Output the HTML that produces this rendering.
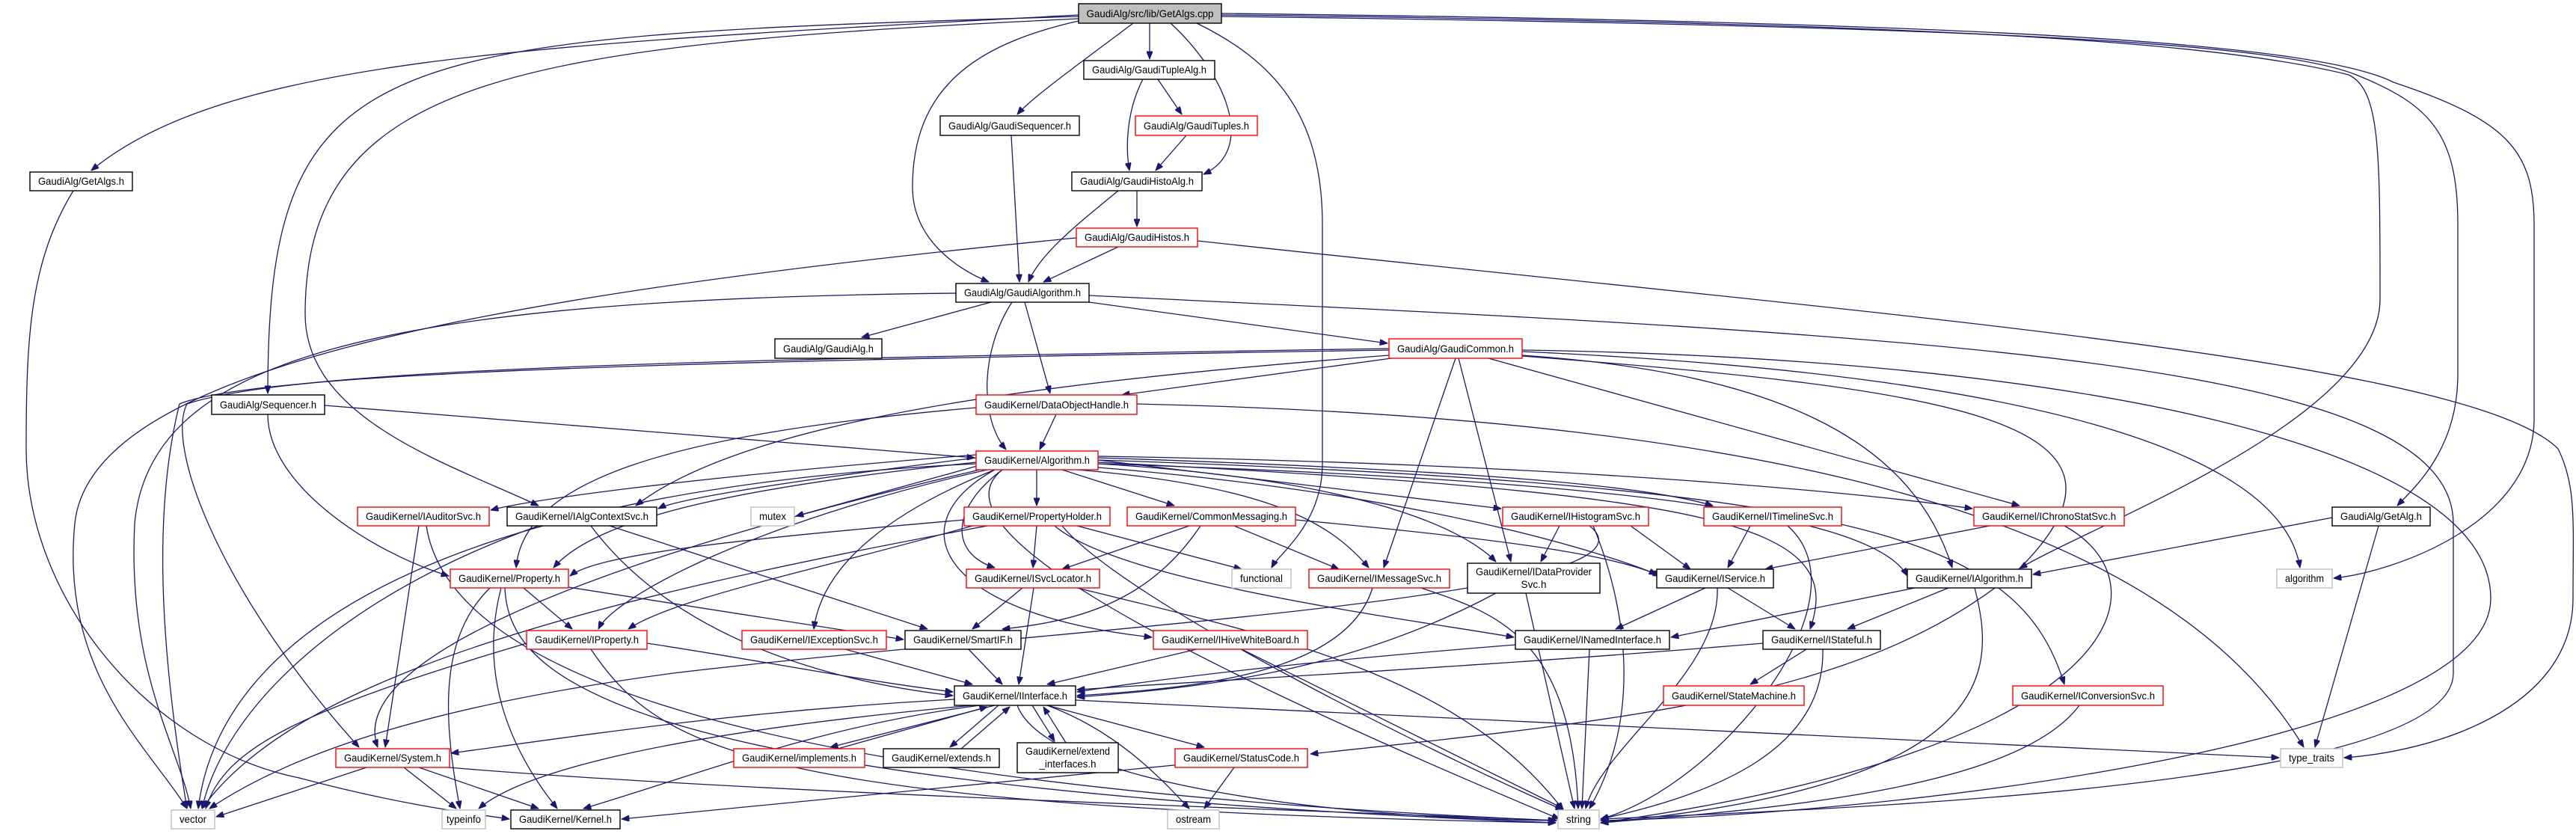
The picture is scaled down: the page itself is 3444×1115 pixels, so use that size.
<!DOCTYPE html>
<html><head><meta charset="utf-8"><style>
html,body{margin:0;padding:0;background:#fff;}
svg{display:block;}
text{font-family:"Liberation Sans",Arial,sans-serif;font-size:14px;fill:#000;}
.e path{fill:none;stroke:#191970;stroke-width:1.3;marker-end:url(#a);}
.n rect{fill:#fff;stroke-width:1.4;}
.k rect{stroke:#000;}
.r rect{stroke:#ff0000;}
.g rect{stroke:#bfbfbf;}
</style></head><body>
<svg width="3444" height="1115" viewBox="0 0 3444 1115" xmlns="http://www.w3.org/2000/svg">
<defs><marker id="a" viewBox="0 0 10 8" refX="10" refY="4" markerWidth="11" markerHeight="8" markerUnits="userSpaceOnUse" orient="auto"><path d="M0,0 L10,4 L0,8 z" fill="#191970" stroke="#191970"/></marker></defs>
<g class="e">
<path d="M1442,20 C700,60 300,80 122,228"/>
<path d="M1442,22 C500,50 358,60 358,526"/>
<path d="M1442,25 C700,60 408,100 408,420 C408,560 600,620 720,676"/>
<path d="M1515,31 C1450,80 1380,130 1360,153"/>
<path d="M1537,31 L1537,79"/>
<path d="M1565,31 C1640,100 1680,200 1609,233"/>
<path d="M1442,28 C1300,60 1220,120 1220,250 C1220,320 1280,360 1322,377"/>
<path d="M1600,31 C1700,80 1768,150 1768,300 L1768,620 C1768,700 1710,740 1700,759"/>
<path d="M1633,20 C2500,30 2940,50 3140,100 C3182,120 3182,200 3182,400 C3182,560 2800,700 2700,760"/>
<path d="M1633,22 C2700,35 3050,60 3150,100 C3250,140 3286,180 3286,300 L3286,500 C3286,600 3230,650 3205,676"/>
<path d="M1633,18 C2700,30 3100,60 3200,110 C3350,160 3388,200 3388,300 L3388,560 C3388,700 3200,765 3120,773"/>
<path d="M1548,106 L1580,153"/>
<path d="M1528,106 C1505,150 1505,200 1510,228"/>
<path d="M1586,181 L1545,228"/>
<path d="M1352,181 L1363,377"/>
<path d="M1520,255 L1520,303"/>
<path d="M1495,255 C1440,300 1390,340 1375,377"/>
<path d="M1495,330 L1395,377"/>
<path d="M1439,318 C600,400 120,500 100,700 C80,900 200,1000 250,1081"/>
<path d="M1601,322 C2500,420 3300,480 3420,600 C3445,650 3440,700 3440,800 C3440,950 3250,1005 3134,1013"/>
<path d="M1278,392 C500,400 200,480 180,700 C170,900 240,1000 255,1081"/>
<path d="M1456,395 C2600,450 3280,480 3280,700 L3280,900 C3280,1050 2500,1080 2140,1095"/>
<path d="M1325,404 L1152,451"/>
<path d="M1456,404 L1855,459"/>
<path d="M1370,404 L1404,526"/>
<path d="M1353,404 C1310,470 1310,560 1345,601"/>
<path d="M1860,479 L1500,528"/>
<path d="M1857,475 C1400,510 1000,560 850,676"/>
<path d="M1857,466 C1000,480 400,490 250,540 C220,600 300,800 480,999"/>
<path d="M1857,468 C1000,482 350,495 240,540 C200,700 220,900 250,1081"/>
<path d="M1946,479 L1850,759"/>
<path d="M1950,479 L2020,751"/>
<path d="M1990,479 L2700,676"/>
<path d="M2035,475 C2400,500 2560,600 2610,759"/>
<path d="M2035,470 C2700,500 3050,600 3075,759"/>
<path d="M2035,476 C2600,520 2900,560 2700,760 C2500,930 2200,960 1752,1008"/>
<path d="M2035,468 C2800,480 3330,600 3330,800 C3330,1000 2500,1090 2140,1097"/>
<path d="M1412,554 L1390,601"/>
<path d="M1305,545 C900,580 700,640 690,759"/>
<path d="M1520,540 C2400,560 2900,700 3080,999"/>
<path d="M1305,608 C900,640 700,670 656,682"/>
<path d="M1305,612 C1000,650 900,670 880,680"/>
<path d="M1310,622 L1064,690"/>
<path d="M1305,618 C1000,650 800,690 740,759"/>
<path d="M1320,628 C1000,700 820,800 800,841"/>
<path d="M1310,628 C1000,700 450,850 505,999"/>
<path d="M1305,620 C700,650 300,800 265,1081"/>
<path d="M1386,628 L1386,676"/>
<path d="M1420,628 L1570,676"/>
<path d="M1468,615 L2007,680"/>
<path d="M1468,612 C2000,630 2200,650 2290,676"/>
<path d="M1468,610 C2100,620 2500,660 2637,680"/>
<path d="M1340,628 C1270,680 1270,740 1330,759"/>
<path d="M1440,628 C1700,650 1780,700 1830,759"/>
<path d="M1468,620 C1800,640 1950,700 2000,751"/>
<path d="M1468,625 C1900,660 2150,740 2220,770"/>
<path d="M1468,620 C2100,640 2500,680 2550,770"/>
<path d="M1330,628 C1200,680 1100,750 1088,841"/>
<path d="M1330,628 C1200,700 1250,820 1540,852"/>
<path d="M1468,618 C2300,660 2470,700 2420,841"/>
<path d="M1468,615 C2500,650 2700,720 2760,915"/>
<path d="M1340,628 C1250,700 1500,850 2085,1095"/>
<path d="M1386,703 L1381,759"/>
<path d="M1440,703 L1660,761"/>
<path d="M1289,695 C1000,720 800,740 762,770"/>
<path d="M1300,703 C1100,760 900,800 840,841"/>
<path d="M1410,703 C1500,780 1900,830 2024,852"/>
<path d="M1320,703 C800,800 400,900 270,1081"/>
<path d="M1420,703 C1500,800 1900,1000 2090,1083"/>
<path d="M1590,703 L1420,761"/>
<path d="M1650,703 L1790,761"/>
<path d="M1605,703 C1540,800 1450,830 1340,841"/>
<path d="M1732,695 C2000,720 2150,740 2215,768"/>
<path d="M2180,703 L2260,761"/>
<path d="M2085,703 L2060,751"/>
<path d="M2130,703 C2170,800 2200,950 2125,1081"/>
<path d="M2125,703 C2250,800 1400,840 900,900 C600,940 400,1000 280,1081"/>
<path d="M2340,703 L2310,759"/>
<path d="M2390,703 C2500,800 2300,1050 2140,1095"/>
<path d="M2660,703 L2360,761"/>
<path d="M2760,703 C2900,780 2850,1000 2140,1100"/>
<path d="M2560,786 L2234,852"/>
<path d="M2605,786 L2470,841"/>
<path d="M2640,786 C2670,900 2670,1050 2140,1100"/>
<path d="M3118,692 L2718,768"/>
<path d="M3180,703 L3095,999"/>
<path d="M1367,786 L1300,841"/>
<path d="M1382,786 L1362,915"/>
<path d="M1440,786 C1700,850 1950,900 2090,1083"/>
<path d="M1835,786 C1800,900 1600,920 1440,930"/>
<path d="M1900,786 C2000,820 2100,850 2110,1081"/>
<path d="M2000,793 C1800,900 1600,920 1440,932"/>
<path d="M2040,793 L2105,1081"/>
<path d="M2280,786 L2160,841"/>
<path d="M2310,786 L2400,841"/>
<path d="M2296,786 C2300,900 2140,1000 2120,1081"/>
<path d="M560,703 L515,999"/>
<path d="M570,703 C600,900 1000,1050 2080,1097"/>
<path d="M790,703 C900,850 1100,910 1274,930"/>
<path d="M815,703 L1240,841"/>
<path d="M720,703 C450,800 300,950 270,1081"/>
<path d="M700,786 L765,841"/>
<path d="M760,785 L1208,855"/>
<path d="M670,786 C640,900 680,1000 745,1081"/>
<path d="M655,786 C590,850 590,950 615,1081"/>
<path d="M675,786 C680,900 800,1050 2080,1100"/>
<path d="M865,860 C1000,880 1150,910 1274,925"/>
<path d="M704,860 C400,950 300,1000 275,1081"/>
<path d="M790,868 C880,1000 1000,1080 2080,1100"/>
<path d="M1130,868 L1300,915"/>
<path d="M1295,868 L1340,915"/>
<path d="M1600,868 L1400,915"/>
<path d="M1660,868 L2090,1081"/>
<path d="M2026,862 C1800,880 1600,900 1440,925"/>
<path d="M2125,868 L2115,1081"/>
<path d="M2415,868 L2340,915"/>
<path d="M2357,860 C2000,890 1700,905 1440,922"/>
<path d="M2437,868 C2440,1000 2300,1060 2140,1095"/>
<path d="M2780,943 C2700,1050 2400,1080 2140,1100"/>
<path d="M1276,935 C1000,950 800,980 603,1007"/>
<path d="M1330,943 L1110,999"/>
<path d="M1120,1001 L1320,945"/>
<path d="M1335,943 L1270,999"/>
<path d="M1285,1001 L1350,945"/>
<path d="M1380,943 L1410,991"/>
<path d="M1425,993 L1395,945"/>
<path d="M1400,943 L1610,999"/>
<path d="M1400,943 C1500,980 1560,1050 1590,1081"/>
<path d="M1360,943 C1400,1050 1800,1095 2081,1097"/>
<path d="M1300,943 C900,980 700,1030 640,1081"/>
<path d="M1310,943 C1100,970 950,1030 780,1081"/>
<path d="M1438,936 L3047,1013"/>
<path d="M490,1026 L289,1092"/>
<path d="M540,1026 L610,1081"/>
<path d="M560,1026 L720,1081"/>
<path d="M600,1026 C1000,1060 1800,1085 2081,1097"/>
<path d="M1650,1026 L1610,1081"/>
<path d="M1580,1022 C1200,1060 1000,1080 831,1095"/>
<path d="M98,255 C40,350 35,450 35,600 C35,800 200,1000 400,1040 C550,1080 650,1090 681,1095"/>
<path d="M358,554 C358,650 500,740 600,770"/>
<path d="M434,542 L1303,612"/>
</g>
<g class="n">
<g class="k"><rect x="1442" y="5" width="191" height="26" style="fill:#bfbfbf"/><text x="1537.5" y="23" text-anchor="middle" textLength="170" lengthAdjust="spacingAndGlyphs">GaudiAlg/src/lib/GetAlgs.cpp</text></g>
<g class="k"><rect x="40" y="230" width="137" height="25"/><text x="108.5" y="247" text-anchor="middle" textLength="115" lengthAdjust="spacingAndGlyphs">GaudiAlg/GetAlgs.h</text></g>
<g class="k"><rect x="1257" y="155" width="186" height="26"/><text x="1350" y="173" text-anchor="middle" textLength="164" lengthAdjust="spacingAndGlyphs">GaudiAlg/GaudiSequencer.h</text></g>
<g class="k"><rect x="1449" y="81" width="175" height="25"/><text x="1536.5" y="98" text-anchor="middle" textLength="153" lengthAdjust="spacingAndGlyphs">GaudiAlg/GaudiTupleAlg.h</text></g>
<g class="r"><rect x="1518" y="155" width="163" height="26"/><text x="1599.5" y="173" text-anchor="middle" textLength="141" lengthAdjust="spacingAndGlyphs">GaudiAlg/GaudiTuples.h</text></g>
<g class="k"><rect x="1433" y="230" width="174" height="25"/><text x="1520" y="247" text-anchor="middle" textLength="152" lengthAdjust="spacingAndGlyphs">GaudiAlg/GaudiHistoAlg.h</text></g>
<g class="r"><rect x="1439" y="305" width="162" height="25"/><text x="1520" y="322" text-anchor="middle" textLength="140" lengthAdjust="spacingAndGlyphs">GaudiAlg/GaudiHistos.h</text></g>
<g class="k"><rect x="1278" y="379" width="178" height="25"/><text x="1367" y="396" text-anchor="middle" textLength="156" lengthAdjust="spacingAndGlyphs">GaudiAlg/GaudiAlgorithm.h</text></g>
<g class="k"><rect x="283" y="528" width="151" height="26"/><text x="358.5" y="546" text-anchor="middle" textLength="129" lengthAdjust="spacingAndGlyphs">GaudiAlg/Sequencer.h</text></g>
<g class="k"><rect x="1036" y="453" width="143" height="26"/><text x="1107.5" y="471" text-anchor="middle" textLength="121" lengthAdjust="spacingAndGlyphs">GaudiAlg/GaudiAlg.h</text></g>
<g class="r"><rect x="1857" y="453" width="178" height="26"/><text x="1946" y="471" text-anchor="middle" textLength="156" lengthAdjust="spacingAndGlyphs">GaudiAlg/GaudiCommon.h</text></g>
<g class="r"><rect x="1305" y="528" width="215" height="26"/><text x="1412.5" y="546" text-anchor="middle" textLength="193" lengthAdjust="spacingAndGlyphs">GaudiKernel/DataObjectHandle.h</text></g>
<g class="r"><rect x="1305" y="603" width="163" height="25"/><text x="1386.5" y="620" text-anchor="middle" textLength="141" lengthAdjust="spacingAndGlyphs">GaudiKernel/Algorithm.h</text></g>
<g class="r"><rect x="478" y="678" width="176" height="25"/><text x="566" y="695" text-anchor="middle" textLength="154" lengthAdjust="spacingAndGlyphs">GaudiKernel/IAuditorSvc.h</text></g>
<g class="k"><rect x="678" y="678" width="200" height="25"/><text x="778" y="695" text-anchor="middle" textLength="178" lengthAdjust="spacingAndGlyphs">GaudiKernel/IAlgContextSvc.h</text></g>
<g class="g"><rect x="1004" y="678" width="58" height="25"/><text x="1033" y="695" text-anchor="middle" textLength="36" lengthAdjust="spacingAndGlyphs">mutex</text></g>
<g class="r"><rect x="1289" y="678" width="195" height="25"/><text x="1386.5" y="695" text-anchor="middle" textLength="173" lengthAdjust="spacingAndGlyphs">GaudiKernel/PropertyHolder.h</text></g>
<g class="r"><rect x="1507" y="678" width="225" height="25"/><text x="1619.5" y="695" text-anchor="middle" textLength="203" lengthAdjust="spacingAndGlyphs">GaudiKernel/CommonMessaging.h</text></g>
<g class="r"><rect x="2009" y="678" width="195" height="25"/><text x="2106.5" y="695" text-anchor="middle" textLength="173" lengthAdjust="spacingAndGlyphs">GaudiKernel/IHistogramSvc.h</text></g>
<g class="r"><rect x="2278" y="678" width="184" height="25"/><text x="2370" y="695" text-anchor="middle" textLength="162" lengthAdjust="spacingAndGlyphs">GaudiKernel/ITimelineSvc.h</text></g>
<g class="r"><rect x="2639" y="678" width="201" height="25"/><text x="2739.5" y="695" text-anchor="middle" textLength="179" lengthAdjust="spacingAndGlyphs">GaudiKernel/IChronoStatSvc.h</text></g>
<g class="k"><rect x="3118" y="678" width="131" height="25"/><text x="3183.5" y="695" text-anchor="middle" textLength="109" lengthAdjust="spacingAndGlyphs">GaudiAlg/GetAlg.h</text></g>
<g class="r"><rect x="602" y="761" width="158" height="25"/><text x="681" y="778" text-anchor="middle" textLength="136" lengthAdjust="spacingAndGlyphs">GaudiKernel/Property.h</text></g>
<g class="r"><rect x="1292" y="761" width="178" height="25"/><text x="1381" y="778" text-anchor="middle" textLength="156" lengthAdjust="spacingAndGlyphs">GaudiKernel/ISvcLocator.h</text></g>
<g class="g"><rect x="1647" y="761" width="79" height="25"/><text x="1686.5" y="778" text-anchor="middle" textLength="57" lengthAdjust="spacingAndGlyphs">functional</text></g>
<g class="r"><rect x="1750" y="761" width="188" height="25"/><text x="1844" y="778" text-anchor="middle" textLength="166" lengthAdjust="spacingAndGlyphs">GaudiKernel/IMessageSvc.h</text></g>
<g class="k"><rect x="1962" y="753" width="177" height="40"/><text x="2050.5" y="769" text-anchor="middle" textLength="155" lengthAdjust="spacingAndGlyphs">GaudiKernel/IDataProvider</text><text x="2050.5" y="786" text-anchor="middle" textLength="34" lengthAdjust="spacingAndGlyphs">Svc.h</text></g>
<g class="k"><rect x="2215" y="761" width="156" height="25"/><text x="2293" y="778" text-anchor="middle" textLength="134" lengthAdjust="spacingAndGlyphs">GaudiKernel/IService.h</text></g>
<g class="k"><rect x="2550" y="761" width="166" height="25"/><text x="2633" y="778" text-anchor="middle" textLength="144" lengthAdjust="spacingAndGlyphs">GaudiKernel/IAlgorithm.h</text></g>
<g class="g"><rect x="3044" y="761" width="74" height="25"/><text x="3081" y="778" text-anchor="middle" textLength="52" lengthAdjust="spacingAndGlyphs">algorithm</text></g>
<g class="r"><rect x="704" y="843" width="161" height="25"/><text x="784.5" y="860" text-anchor="middle" textLength="139" lengthAdjust="spacingAndGlyphs">GaudiKernel/IProperty.h</text></g>
<g class="r"><rect x="992" y="843" width="193" height="25"/><text x="1088.5" y="860" text-anchor="middle" textLength="171" lengthAdjust="spacingAndGlyphs">GaudiKernel/IExceptionSvc.h</text></g>
<g class="k"><rect x="1210" y="843" width="155" height="25"/><text x="1287.5" y="860" text-anchor="middle" textLength="133" lengthAdjust="spacingAndGlyphs">GaudiKernel/SmartIF.h</text></g>
<g class="r"><rect x="1542" y="843" width="206" height="25"/><text x="1645" y="860" text-anchor="middle" textLength="184" lengthAdjust="spacingAndGlyphs">GaudiKernel/IHiveWhiteBoard.h</text></g>
<g class="k"><rect x="2026" y="843" width="206" height="25"/><text x="2129" y="860" text-anchor="middle" textLength="184" lengthAdjust="spacingAndGlyphs">GaudiKernel/INamedInterface.h</text></g>
<g class="k"><rect x="2357" y="843" width="157" height="25"/><text x="2435.5" y="860" text-anchor="middle" textLength="135" lengthAdjust="spacingAndGlyphs">GaudiKernel/IStateful.h</text></g>
<g class="k"><rect x="1276" y="917" width="162" height="26"/><text x="1357" y="935" text-anchor="middle" textLength="140" lengthAdjust="spacingAndGlyphs">GaudiKernel/IInterface.h</text></g>
<g class="r"><rect x="2224" y="917" width="188" height="26"/><text x="2318" y="935" text-anchor="middle" textLength="166" lengthAdjust="spacingAndGlyphs">GaudiKernel/StateMachine.h</text></g>
<g class="r"><rect x="2691" y="917" width="201" height="26"/><text x="2791.5" y="935" text-anchor="middle" textLength="179" lengthAdjust="spacingAndGlyphs">GaudiKernel/IConversionSvc.h</text></g>
<g class="r"><rect x="449" y="1001" width="152" height="25"/><text x="525" y="1018" text-anchor="middle" textLength="130" lengthAdjust="spacingAndGlyphs">GaudiKernel/System.h</text></g>
<g class="r"><rect x="981" y="1001" width="175" height="25"/><text x="1068.5" y="1018" text-anchor="middle" textLength="153" lengthAdjust="spacingAndGlyphs">GaudiKernel/implements.h</text></g>
<g class="k"><rect x="1181" y="1001" width="155" height="25"/><text x="1258.5" y="1018" text-anchor="middle" textLength="133" lengthAdjust="spacingAndGlyphs">GaudiKernel/extends.h</text></g>
<g class="k"><rect x="1360" y="993" width="135" height="40"/><text x="1427.5" y="1009" text-anchor="middle" textLength="113" lengthAdjust="spacingAndGlyphs">GaudiKernel/extend</text><text x="1427.5" y="1026" text-anchor="middle" textLength="76" lengthAdjust="spacingAndGlyphs">_interfaces.h</text></g>
<g class="r"><rect x="1571" y="1001" width="177" height="25"/><text x="1659.5" y="1018" text-anchor="middle" textLength="155" lengthAdjust="spacingAndGlyphs">GaudiKernel/StatusCode.h</text></g>
<g class="g"><rect x="3049" y="1001" width="83" height="25"/><text x="3090.5" y="1018" text-anchor="middle" textLength="61" lengthAdjust="spacingAndGlyphs">type_traits</text></g>
<g class="g"><rect x="229" y="1083" width="58" height="25"/><text x="258" y="1100" text-anchor="middle" textLength="36" lengthAdjust="spacingAndGlyphs">vector</text></g>
<g class="g"><rect x="591" y="1083" width="58" height="25"/><text x="620" y="1100" text-anchor="middle" textLength="46" lengthAdjust="spacingAndGlyphs">typeinfo</text></g>
<g class="k"><rect x="683" y="1083" width="146" height="25"/><text x="756" y="1100" text-anchor="middle" textLength="124" lengthAdjust="spacingAndGlyphs">GaudiKernel/Kernel.h</text></g>
<g class="g"><rect x="1561" y="1083" width="69" height="25"/><text x="1595.5" y="1100" text-anchor="middle" textLength="47" lengthAdjust="spacingAndGlyphs">ostream</text></g>
<g class="g"><rect x="2083" y="1083" width="55" height="25"/><text x="2110.5" y="1100" text-anchor="middle" textLength="33" lengthAdjust="spacingAndGlyphs">string</text></g>
</g>
</svg>
</body></html>
